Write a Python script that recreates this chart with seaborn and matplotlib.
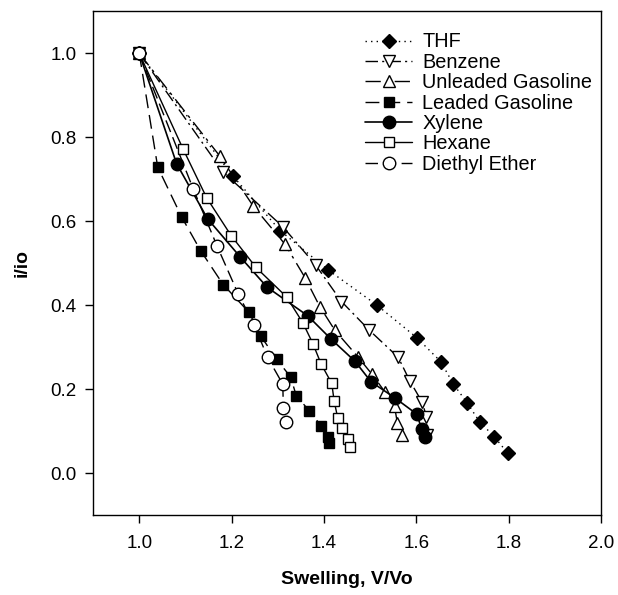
import matplotlib
matplotlib.use("Agg")
import matplotlib.pyplot as plt
import seaborn as sns
import pandas as pd

sns.set_theme(style="white")
plt.rcParams['font.family'] = ['Liberation Sans', 'DejaVu Sans']
plt.rcParams['text.color'] = 'black'
plt.rcParams['axes.labelcolor'] = 'black'
plt.rcParams['xtick.color'] = 'black'
plt.rcParams['ytick.color'] = 'black'

series_names = ["THF", "Benzene", "Unleaded Gasoline", "Leaded Gasoline",
                "Xylene", "Hexane", "Diethyl Ether"]

thf_x = [1.0, 1.202, 1.305, 1.408, 1.514, 1.601, 1.653, 1.680, 1.710, 1.737, 1.769, 1.798]
thf_y = [1.0, 0.709, 0.578, 0.485, 0.401, 0.323, 0.266, 0.213, 0.168, 0.123, 0.087, 0.048]

benz_x = [1.0, 1.181, 1.311, 1.382, 1.438, 1.498, 1.561, 1.586, 1.613, 1.622, 1.624]
benz_y = [1.0, 0.718, 0.587, 0.496, 0.409, 0.341, 0.276, 0.220, 0.169, 0.135, 0.090]

unl_x = [1.0, 1.174, 1.247, 1.316, 1.359, 1.391, 1.424, 1.473, 1.504, 1.532, 1.553, 1.559, 1.570]
unl_y = [1.0, 0.756, 0.636, 0.545, 0.466, 0.397, 0.340, 0.278, 0.236, 0.194, 0.159, 0.120, 0.091]

led_x = [1.0, 1.040, 1.092, 1.133, 1.182, 1.238, 1.263, 1.298, 1.328, 1.340, 1.368, 1.394, 1.408, 1.411]
led_y = [1.0, 0.729, 0.610, 0.530, 0.449, 0.383, 0.327, 0.271, 0.229, 0.185, 0.149, 0.113, 0.086, 0.071]

xyl_x = [1.0, 1.081, 1.148, 1.218, 1.277, 1.365, 1.415, 1.467, 1.502, 1.553, 1.601, 1.612, 1.620]
xyl_y = [1.0, 0.737, 0.606, 0.516, 0.443, 0.375, 0.320, 0.267, 0.218, 0.180, 0.141, 0.105, 0.087]

hex_x = [1.0, 1.095, 1.146, 1.199, 1.253, 1.319, 1.354, 1.376, 1.394, 1.417, 1.422, 1.430, 1.440, 1.453, 1.456]
hex_y = [1.0, 0.772, 0.656, 0.566, 0.490, 0.420, 0.359, 0.309, 0.260, 0.214, 0.173, 0.131, 0.107, 0.081, 0.063]

eth_x = [1.0, 1.117, 1.169, 1.214, 1.249, 1.278, 1.311, 1.312, 1.318]
eth_y = [1.0, 0.677, 0.540, 0.428, 0.353, 0.276, 0.212, 0.155, 0.121]

x_ticks = [1.0, 1.2, 1.4, 1.6, 1.8, 2.0]
y_ticks = [0.0, 0.2, 0.4, 0.6, 0.8, 1.0]

data = {
    "THF": (thf_x, thf_y),
    "Benzene": (benz_x, benz_y),
    "Unleaded Gasoline": (unl_x, unl_y),
    "Leaded Gasoline": (led_x, led_y),
    "Xylene": (xyl_x, xyl_y),
    "Hexane": (hex_x, hex_y),
    "Diethyl Ether": (eth_x, eth_y),
}

styles = {
    "THF": dict(marker="D", mfc="black", ms=7.5, dashes=(1, 3), lw=1.0),
    "Benzene": dict(marker="v", mfc="white", ms=8.5, dashes=(9, 3, 1.5, 3), lw=1.0),
    "Unleaded Gasoline": dict(marker="^", mfc="white", ms=8.5, dashes=(11, 4, 2, 4), lw=1.0),
    "Leaded Gasoline": dict(marker="s", mfc="black", ms=7.5, dashes=(10, 5), lw=1.0),
    "Xylene": dict(marker="o", mfc="black", ms=9, dashes=None, lw=1.2),
    "Hexane": dict(marker="s", mfc="white", ms=7.5, dashes=None, lw=1.0),
    "Diethyl Ether": dict(marker="o", mfc="white", ms=9, dashes=(9, 4), lw=1.0),
}

fig = plt.figure(figsize=(6.18, 5.95), dpi=100)
ax = fig.add_axes([0.1506, 0.134, 0.8218, 0.847])

for name in series_names:
    xs, ys = data[name]
    st = styles[name]
    df = pd.DataFrame({"x": xs, "y": ys})
    kw = dict(color="black", marker=st["marker"], markersize=st["ms"],
              markerfacecolor=st["mfc"], markeredgecolor="black",
              markeredgewidth=1.0, linewidth=st["lw"])
    sns.lineplot(data=df, x="x", y="y", sort=False, estimator=None,
                 ax=ax, label=name, **kw)
    ln = ax.lines[-1]
    if st["dashes"] is not None:
        ln.set_dashes(st["dashes"])
    else:
        ln.set_linestyle("-")

ax.set_xlim(0.9, 2.0)
ax.set_ylim(-0.1, 1.1)
ax.set_xticks(x_ticks)
ax.set_xticklabels([f"{v:.1f}" for v in x_ticks])
ax.set_yticks(y_ticks)
ax.set_yticklabels([f"{v:.1f}" for v in y_ticks])
ax.tick_params(axis="both", direction="out", length=6, width=1, labelsize=13.5,
               bottom=True, left=True, top=False, right=False, colors="black")
ax.tick_params(axis="x", pad=8)
ax.tick_params(axis="y", pad=6)
for sp in ax.spines.values():
    sp.set_color("black")
    sp.set_linewidth(1.0)
ax.set_xlabel("Swelling, V/Vo", fontsize=14, fontweight="bold", labelpad=14)
ax.set_ylabel("i/io", fontsize=14, fontweight="bold", labelpad=14)
ax.grid(False)

handles, labels = ax.get_legend_handles_labels()
for h, name in zip(handles, labels):
    st = styles[name]
    if st["dashes"] is not None:
        h.set_dashes(st["dashes"])
    else:
        h.set_linestyle("-")
ax.legend(handles, labels, loc="upper left", bbox_to_anchor=(0.535, 0.958),
          frameon=False, fontsize=14.3, handlelength=2.4, handletextpad=0.5,
          labelspacing=0.07, borderpad=0, borderaxespad=0)

fig.savefig("out.png", dpi=100)
